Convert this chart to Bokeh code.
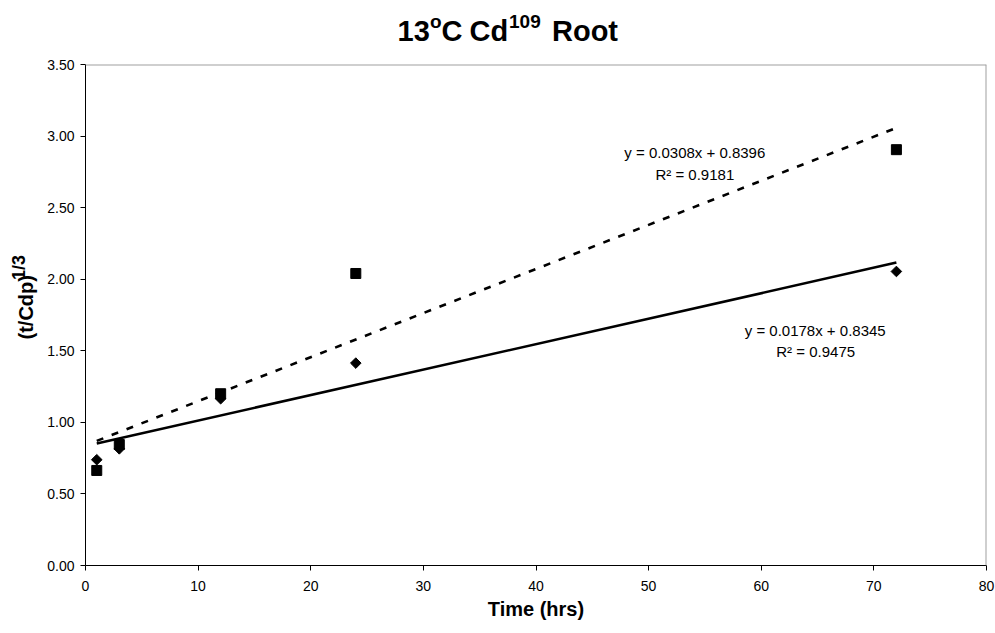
import numpy as np
from bokeh.plotting import figure
from bokeh.layouts import column, row
from bokeh.models import Range1d, FixedTicker, NumeralTickFormatter, Label, Span, ColumnDataSource
from bokeh.core.properties import value
from bokeh.embed import file_html
from bokeh.resources import INLINE

# ---------------- data ----------------
time_hrs = [1, 3, 12, 24, 72]
series_square = [0.664, 0.845, 1.200, 2.040, 2.905]   # dashed trendline
series_diamond = [0.739, 0.815, 1.165, 1.414, 2.054]  # solid trendline
fit_slope = [0.0308, 0.0178]
fit_intercept = [0.8396, 0.8345]
fit_r2 = [0.9181, 0.9475]
x_ticks = [0, 10, 20, 30, 40, 50, 60, 70, 80]
y_ticks = [0.0, 0.5, 1.0, 1.5, 2.0, 2.5, 3.0, 3.5]
title_texts = ["13", "o", "C", "Cd", "109", "Root"]
ylabel_texts = ["(t/Cdp)", "1/3"]
xlabel_text = "Time (hrs)"

# ---------------- layout ----------------
W, H = 995, 633
TOP_H = 48          # title strip height
LEFT_W = 44         # y-label strip width
MAIN_W, MAIN_H = W - LEFT_W, H - TOP_H
BL, BR, BT, BB = 40, 9, 16, 68   # main figure borders -> frame 84..986 x 64..565
X0, X1 = 0, 80
Y0, Y1 = 0, 3.5
FONT = "Liberation Sans"
MID = 0.3465   # (ascent - descent) / 2 of the font, in em: baseline -> box centre


def strip(width, height):
    f = figure(width=width, height=height, output_backend="svg", toolbar_location=None,
               title=None, x_range=Range1d(0, width), y_range=Range1d(0, height),
               x_axis_location=None, y_axis_location=None,
               min_border=0, min_border_left=0, min_border_right=0,
               min_border_top=0, min_border_bottom=0)
    f.grid.visible = False
    f.outline_line_color = None
    f.background_fill_color = "white"
    f.border_fill_color = "white"
    return f


# ---------------- title strip (x = canvas px, y = TOP_H - canvas px) ----------------
tfig = strip(W, TOP_H)
title_cx = [397, 429.5, 441, 469, 508.5, 551.5]
title_base = [40.5, 27.5, 40.5, 40.5, 27.5, 40.5]
title_fs = [29, 19, 29, 29, 19, 29]
tsrc = ColumnDataSource(dict(
    x=title_cx,
    y=[TOP_H - (b - MID * f) for b, f in zip(title_base, title_fs)],
    t=title_texts,
    fs=["%dpx" % f for f in title_fs]))
tfig.text("x", "y", text="t", source=tsrc, text_font=value(FONT),
          text_font_style="bold", text_font_size="fs", text_align="left",
          text_baseline="middle", text_color="black")

# ---------------- y-label strip (x = canvas px, y = H - canvas px) ----------------
lfig = strip(LEFT_W, MAIN_H)
lab_base_x = [32, 25]
lab_mid_y = [331.5, 285]
lab_fs = [20, 18]
lsrc = ColumnDataSource(dict(
    x=[b - MID * f for b, f in zip(lab_base_x, lab_fs)],
    y=[H - c for c in lab_mid_y], t=ylabel_texts,
    fs=["%dpx" % f for f in lab_fs]))
lfig.text("x", "y", text="t", source=lsrc, text_font=value(FONT),
          text_font_style="bold", text_font_size="fs", angle=np.pi / 2,
          text_align="center", text_baseline="middle", text_color="black")

# ---------------- main plot ----------------
p = figure(width=MAIN_W, height=MAIN_H, output_backend="svg", toolbar_location=None,
           title=None, x_range=Range1d(X0, X1), y_range=Range1d(Y0, Y1),
           min_border_left=BL, min_border_right=BR, min_border_top=BT,
           min_border_bottom=BB)
p.background_fill_color = "white"
p.border_fill_color = "white"
p.outline_line_color = None
p.xgrid.grid_line_color = None
p.ygrid.grid_line_color = None

for ax in (p.xaxis[0], p.yaxis[0]):
    ax.axis_line_color = "black"
    ax.axis_line_width = 1
    ax.major_tick_line_color = "black"
    ax.major_tick_in = 0
    ax.major_tick_out = 5
    ax.minor_tick_line_color = None
    ax.major_label_text_font = FONT
    ax.major_label_text_font_size = "14px"
    ax.major_label_text_color = "black"

p.xaxis[0].ticker = FixedTicker(ticks=x_ticks)
p.yaxis[0].ticker = FixedTicker(ticks=y_ticks)
p.yaxis[0].formatter = NumeralTickFormatter(format="0.00")
p.xaxis[0].formatter = NumeralTickFormatter(format="0")
p.yaxis[0].major_label_standoff = 6
p.xaxis[0].major_label_standoff = 10
p.xaxis[0].axis_label = xlabel_text
p.xaxis[0].axis_label_text_font = FONT
p.xaxis[0].axis_label_text_font_style = "bold"
p.xaxis[0].axis_label_text_font_size = "20px"
p.xaxis[0].axis_label_text_color = "black"
p.xaxis[0].axis_label_standoff = 4

# gray plot-area border on top and right
p.add_layout(Span(location=Y1, dimension="width", line_color="#a0a0a0", line_width=2))
p.add_layout(Span(location=X1, dimension="height", line_color="#a0a0a0", line_width=2))

# ---------------- trendlines ----------------
line_x = [min(time_hrs), max(time_hrs)]
sq_line = [fit_slope[0] * v + fit_intercept[0] for v in line_x]
di_line = [fit_slope[1] * v + fit_intercept[1] for v in line_x]
p.line(line_x, sq_line, line_color="black", line_width=2.6, line_dash="7 9")
p.line(line_x, di_line, line_color="black", line_width=2.6)

# ---------------- points ----------------
src = ColumnDataSource(dict(x=time_hrs, sq=series_square, di=series_diamond))
p.scatter("x", "sq", source=src, marker="square", size=10,
          fill_color="black", line_color="black")
p.scatter("x", "di", source=src, marker="square", size=7.5, angle=np.pi / 4,
          fill_color="black", line_color="black")

# ---------------- equation annotations ----------------
FW, FH = W - LEFT_W - BL - BR, MAIN_H - BT - BB
FX0, FY1 = LEFT_W + BL, TOP_H + BT + FH   # canvas x of frame left, canvas y of frame bottom


def dx(cx):
    return X0 + (cx - FX0) / FW * (X1 - X0)


def dy(cy):
    return Y0 + (FY1 - cy) / FH * (Y1 - Y0)


eq1 = "y = %.4fx + %.4f" % (fit_slope[0], fit_intercept[0])
eq2 = "y = %.4fx + %.4f" % (fit_slope[1], fit_intercept[1])
r1 = "R\u00b2 = %.4f" % fit_r2[0]
r2 = "R\u00b2 = %.4f" % fit_r2[1]
for txt, cx, cy in [(eq1, 694, 152), (r1, 694, 173.5), (eq2, 814.5, 330), (r2, 815, 350.5)]:
    p.add_layout(Label(x=dx(cx), y=dy(cy), text=txt, text_font=FONT,
                       text_font_size="15px", text_align="center",
                       text_baseline="middle", text_color="black"))

layout = column(tfig, row(lfig, p, spacing=0), spacing=0)
open("out.html", "w").write(file_html(layout, INLINE))
